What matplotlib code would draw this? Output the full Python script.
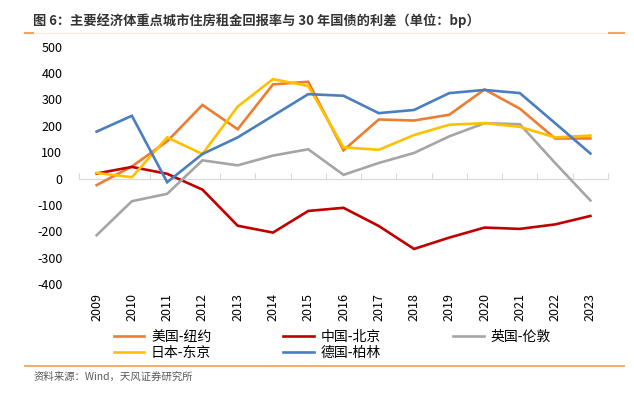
import matplotlib
matplotlib.use("Agg")
import matplotlib.pyplot as plt
from matplotlib.lines import Line2D

plt.rcParams["font.family"] = ["Noto Sans CJK SC", "DejaVu Sans"]
plt.rcParams["axes.unicode_minus"] = False

# Data (bp)
years = list(range(2009, 2024))
us_ny = [-25, 46, 141, 279, 187, 357, 367, 107, 224, 220, 242, 338, 265, 152, 152]
cn_bj = [19, 44, 18, -42, -179, -205, -123, -111, -180, -267, -224, -186, -191, -174, -142]
uk_ld = [-215, -86, -58, 69, 50, 87, 111, 14, 59, 97, 160, 210, 206, 59, -83]
jp_tk = [21, 5, 156, 93, 273, 377, 351, 118, 109, 165, 204, 210, 196, 156, 163]
de_bl = [178, 238, -14, 93, 156, 238, 320, 314, 248, 260, 324, 336, 324, 210, 95]

series = [
    ("美国-纽约", us_ny, "#ED7D31"),
    ("中国-北京", cn_bj, "#C00000"),
    ("英国-伦敦", uk_ld, "#A5A5A5"),
    ("日本-东京", jp_tk, "#FFC000"),
    ("德国-柏林", de_bl, "#4A7EBF"),
]

W, H = 634, 397
fig = plt.figure(figsize=(W / 100, H / 100), dpi=100)

# Plot area in pixels
left, right, top, bottom = 79, 608, 46.7, 284
ax = fig.add_axes([left / W, 1 - bottom / H, (right - left) / W, (bottom - top) / H])

handles = {}
for name, vals, color in series:
    (ln,) = ax.plot(years, vals, color=color, lw=1.9, solid_joinstyle="miter")
    handles[name] = ln

ax.set_xlim(years[0] - 0.5, years[-1] + 0.5)
ax.set_ylim(-400, 500)
ax.set_yticks(range(-400, 501, 100))
ax.set_xticks(years)
ax.set_xticklabels([str(y) for y in years], rotation=90)
ax.tick_params(axis="x", length=0, pad=6.5, labelsize=9, colors="#000000")
ax.tick_params(axis="y", length=0, pad=12, labelsize=9, colors="#000000")
for s in ax.spines.values():
    s.set_visible(False)

# zero line with category tick marks
sec = ax.secondary_xaxis(4 / 9)
sec.set_xticks([y - 0.5 for y in years] + [years[-1] + 0.5])
sec.tick_params(axis="x", direction="in", length=4, width=0.8, color="#D9D9D9",
                labeltop=False, labelbottom=False)
for s in sec.spines.values():
    s.set_color("#D9D9D9")
    s.set_linewidth(0.9)

# legend (row-major order)
order = ["美国-纽约", "日本-东京", "中国-北京", "德国-柏林", "英国-伦敦"]
fig.legend([handles[k] for k in order], order, ncol=3, loc="center left",
           bbox_to_anchor=(101 / W, 1 - 345 / H), frameon=False, fontsize=10,
           handlelength=2.2, handletextpad=0.5, columnspacing=5.2,
           labelspacing=0.15)

# title and source
fig.text(33 / W, 1 - 21 / H, "图 6：主要经济体重点城市住房租金回报率与 30 年国债的利差（单位：bp）",
         fontsize=9.5, fontweight="bold", color="#333333", va="center", ha="left")
fig.text(34 / W, 1 - 377 / H, "资料来源：Wind，天风证券研究所",
         fontsize=7.5, color="#595959", va="center", ha="left")

# decorative rules
fig.add_artist(Line2D([25 / W, 624 / W], [1 - 32.7 / H] * 2, color="#FCE9DA", lw=0.8))
fig.add_artist(Line2D([25 / W, 33 / W], [1 - 32.7 / H] * 2, color="#F4A460", lw=1.5))
fig.add_artist(Line2D([609 / W, 624 / W], [1 - 32.7 / H] * 2, color="#F4A460", lw=1.5))
fig.add_artist(Line2D([25 / W, 624 / W], [1 - 366 / H] * 2, color="#F4A460", lw=1.3))

fig.savefig("out.png", dpi=100)
